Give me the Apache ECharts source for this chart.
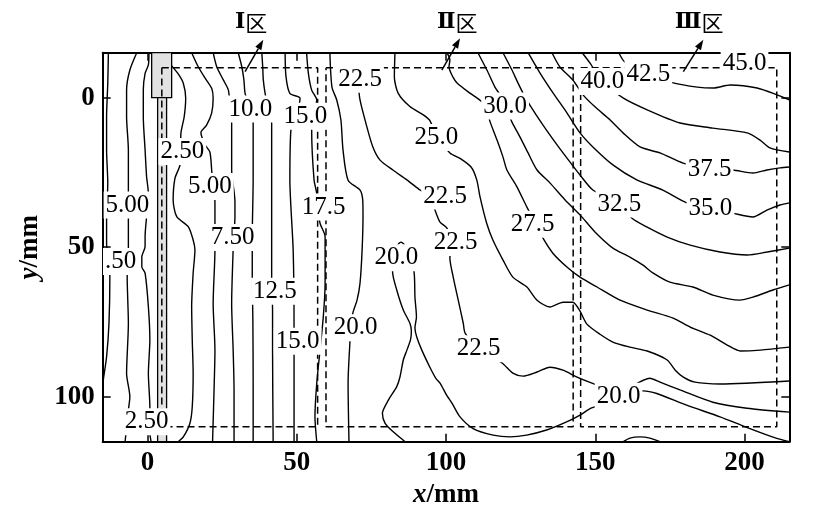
<!DOCTYPE html>
<html><head><meta charset="utf-8">
<script src="https://cdn.jsdelivr.net/npm/echarts@6/dist/echarts.min.js"></script>
<style>html,body{margin:0;padding:0;background:#fff}#c{width:831px;height:514px}</style>
</head><body><div id="c"></div>
<script>
// ---- axis ticks ----
const xTickValues = [0, 50, 100, 150, 200];
const yTickValues = [0, 50, 100];

// ---- contour lines (x mm, y mm) ----
const c25a = [[-13.1,-15],[-13.3,-4.8],[-13.7,6.4],[-13.7,17.5],[-13.3,28.6],[-13.7,39.8],[-13.7,48.7],[-12.6,59.9],[-12.9,75.5],[-13.7,86.6],[-14.8,94.4],[-15,96.6]];
const c50a = [[-3.6,-15],[-5.9,-9.2],[-7,-2.5],[-7,6.4],[-6.4,17.5],[-6.4,28.6],[-6.4,42],[-6.4,50.9],[-6.8,59.9],[-6.4,75.5],[-7,92.2],[-5.9,100],[-6.4,104.4],[-7.5,115]];
const c25b = [[0.5,-15],[0.3,-10.9],[-0.8,-8.1],[-1.4,-2.5],[-1.4,6.4],[-0.8,17.5],[-0.3,26.4],[0.3,32],[-0.3,39.8],[-0.8,46.5],[-0.8,49.8],[-1.9,53.2],[-1.9,56.5],[-0.8,58.7],[0.3,69.9],[0.8,81],[0.3,92.2],[0.8,103.3],[0.5,109.4],[1.2,115]];
const c25c = [[8.1,-10.6],[10.3,-7.9],[12,-4.8],[12.8,0.2],[12.3,6.4],[11.2,11.9],[11.1,17.5],[10.9,22.5],[9.2,27],[8.6,34.2],[9.8,39.8],[13.7,43.2],[15.3,47.6],[15.9,50.9],[15.3,58.7],[14.8,69.9],[15,81],[15.3,92.2],[15,103.3],[14.2,108.9],[12,113.4],[10.3,115]];
const c50b = [[14.8,-15],[17,-10.3],[19.3,-6.5],[21.5,-3.1],[22,0.2],[21.5,5.2],[19.8,9.2],[17.9,11.7],[19.3,15.8],[20.9,18.2],[21.5,24.2],[21.9,29.6],[22.6,34.8],[22.6,40.9],[22.6,50.9],[22,68.8],[22.6,84.4],[22.3,97.7],[21.8,115]];
const c75 = [[22,-15],[23.2,-10.3],[25.4,-5.9],[27.1,-2.5],[27.6,2.5],[28.2,8.6],[28.2,24.2],[29.3,34.8],[29.3,39.8],[29,45.9],[28.7,50.9],[28.2,68.8],[28.7,84.4],[29,97.7],[29,115]];
const c100 = [[30.4,-15],[31.6,-10.3],[32.3,-5.9],[32.7,-1.4],[34,2.5],[35,5.8],[35.4,8.6],[35.4,27.5],[35.1,46.5],[35.1,59.9],[35.3,74.3],[35.4,94.4],[35.4,115]];
const c125 = [[38.3,-15],[38.6,-10.3],[38.8,-5.9],[39.4,-1.4],[40.4,3.5],[41.6,8.6],[41.6,27.5],[41.6,61],[41.9,71],[41.9,84.4],[42.1,115]];
const c150 = [[46.1,-15],[46.4,-7],[47.7,-1.4],[51.1,0.2],[50.1,5.1],[48.1,10.2],[47.7,27.5],[48.8,50.9],[49.1,76.6],[49.1,95.5],[49.1,115]];
const c175 = [[53.3,-15],[53.9,-8.1],[55,-2.5],[56.7,0.8],[55.4,5.8],[55,10.8],[55.8,27.5],[56.7,32],[57.1,36.9],[57.8,42],[59.5,46.5],[59.5,62.1],[58.9,73.2],[57.8,84.4],[56.7,95.5],[56.1,106.7],[56.7,115]];
const c200a = [[61.1,-15],[61.8,-3.5],[63.4,0.8],[64.8,7.5],[65.5,17.5],[67.2,27.6],[71.2,30.9],[72.1,34.2],[72.2,39.2],[71.9,50.9],[71.2,62],[70.2,67.7],[68.8,72],[68.2,76.7],[67.8,82],[67.2,95.4],[67.5,115]];
const c200b = [[86.3,115],[82.3,111.7],[79.6,108.9],[78.7,105.5],[80.7,101.1],[83.5,96.6],[84.6,93.3],[85.7,87.7],[86.9,84.4],[88.1,81],[88.4,78],[87.9,75.4],[85.7,71],[83.5,64.3],[82.1,58.3],[82.9,50.9],[84.9,48.3],[87.3,50.9],[89.3,58.3],[89.6,66.7],[90.1,73.3],[89.6,77],[90.2,80],[91.9,84.4],[94.6,90.1],[96.6,93.8],[98,95.4],[100.2,99.4],[102,102.1],[104.7,106.7],[109.1,110.6],[115.8,112.8],[121.4,113.4],[127,112.8],[133.7,111.1],[140.4,108.4],[144.9,106.1],[148.8,103.7],[157.6,101.1],[166.1,98],[170.6,98.9],[180.6,102.8],[191.8,106.7],[200.7,110.2],[210.8,113.9],[215,115]];
const c225 = [[70.5,-5.9],[71.2,0.8],[73.5,9.8],[75.5,16.5],[77.9,20.9],[82.2,24.2],[86.9,27.5],[91.3,30.9],[94.6,33.2],[96.3,37.6],[98,41.6],[100.3,43.6],[102,48.6],[101.3,53.6],[102.4,59.9],[104.1,67.7],[105.8,75.5],[106.4,78.7],[110.7,83.7],[118.8,88.7],[122.4,92.1],[125.8,93.1],[130.5,91.7],[134.8,90.1],[139.2,91.1],[143.9,93.4],[148.9,95.4],[157.6,98.4],[168.3,93.8],[171.7,95.1],[178.4,97.7],[189.4,101.8],[200.8,103.8],[215,105.1]];
const c250 = [[82.9,-15],[82.7,-7],[84,-1.4],[87.9,3],[92.4,5.8],[94.6,7.7],[97,13.2],[101.4,18.6],[104.7,20.3],[108.4,23.2],[110.3,27.5],[111.4,33.2],[113.6,41.9],[115.7,47.6],[119.1,54.3],[122.4,60],[127.1,63.3],[130.5,67.7],[134.8,70],[139.2,68.4],[142.5,68.4],[144.9,71.4],[147.2,75.7],[151.6,79.1],[155.9,81.7],[161.6,83.4],[167.4,84.7],[174.1,87.7],[176.8,91.1],[179.5,93.4],[183.4,95.1],[191.8,95.7],[215,94.7]];
const c275 = [[100.3,-15],[101.3,-12.6],[101,-10.2],[102.3,-6.9],[103.7,-4.9],[108,-1.5],[112.1,1.5],[113.8,4.8],[114.8,8.2],[117.1,14.2],[119.1,19.9],[120.4,24.2],[123.8,29.9],[127.1,36.6],[129.8,41.6],[132.5,47],[135.8,52],[140.5,56.6],[144.9,60],[150.6,63.3],[158.3,67.7],[167.4,71],[176.1,73.7],[181.8,76.7],[188.5,79.4],[194.2,82.7],[198.6,84.7],[205.3,84.4],[215,83.4]];
const c300 = [[110.7,-15],[113.7,-9.2],[116.4,-3.5],[118.1,-0.9],[120.1,3.5],[122.1,8.2],[124.8,13.2],[127.5,18.5],[130.5,24.2],[134.8,28.5],[139.9,34.2],[144.9,39.2],[149.9,44.9],[155.9,50.3],[161.6,53.3],[166,56],[169.3,58.6],[175,61.7],[182.7,63.3],[189.4,66],[198.4,67.7],[202.8,66.7],[209.5,64.3],[215,62.6]];
const c325 = [[119.1,-15],[122.1,-9.2],[124.1,-4.9],[125.8,-1.5],[128.1,2.5],[132.5,9.2],[137.2,15.8],[141.5,21.5],[144.9,25.9],[149.2,30.9],[157.9,35.6],[162.3,40.3],[167.4,43.3],[174.1,46.6],[181.8,49.3],[191.8,51.6],[200.9,52.6],[207.6,51.6],[215,50.3]];
const c350 = [[127.5,-15],[131.5,-8.2],[135.9,-1.5],[140.5,5.1],[144.9,11.8],[149.2,16.5],[155.9,22.5],[163.9,27.5],[172.6,30.9],[180.7,35.2],[188.4,36.9],[196.1,38.6],[202.8,39.9],[207.5,37.6],[211.9,35.9],[215,35.2]];
const c375 = [[135.5,-15],[138.2,-10.2],[142.5,-5.9],[145.9,-0.9],[149.9,3.1],[155,7.5],[159.3,11.8],[165,16.5],[171.7,18.5],[179.4,21.9],[188.4,23.9],[196.1,24.2],[202.8,25.2],[207.5,24.2],[211.9,23.5],[215,23.2]];
const c400 = [[145.6,-15],[148.2,-11.6],[152.3,-5.5],[159.3,0.1],[167.4,4.1],[178.4,8.5],[189.4,10.2],[200.9,11.8],[205.2,14.2],[208.5,16.8],[215,18.2]];
const c425 = [[157.9,-15],[159.9,-11.9],[167.7,-7.9],[176.1,-4.9],[184.2,-3.5],[189.5,-3.2],[195.2,-4.2],[204.2,-3.2],[210.9,-0.9],[215,0.8]];
const c175b = [[159.4,115],[161.6,113.8],[165,113.4],[168.3,113.8],[171.7,115]];

const contourLines = [c25a,c50a,c25b,c25c,c50b,c75,c100,c125,c150,c175,c200a,c200b,c225,c250,c275,c300,c325,c350,c375,c400,c425,c175b];

// ---- contour labels [x, y, text] ----
const contourLabels = [
  [34.5,3.8,'10.0'],[52.9,6.2,'15.0'],[71.2,-6.1,'22.5'],[119.8,2.8,'30.0'],
  [152.4,-5.4,'40.0'],[167.8,-7.9,'42.5'],[200.0,-11.4,'45.0'],
  [11.7,18.0,'2.50'],[-6.7,35.9,'5.00'],[20.9,29.7,'5.00'],[96.8,13.3,'25.0'],
  [59.0,36.6,'17.5'],[188.3,23.9,'37.5'],[99.7,32.9,'22.5'],[158.1,35.6,'32.5'],
  [188.6,36.9,'35.0'],[28.5,46.8,'7.50'],[-9.0,54.8,'.50'],[103.2,48.4,'22.5'],
  [129.0,42.3,'27.5'],[83.4,53.5,'20.0'],[42.7,64.7,'12.5'],[69.7,76.9,'20.0'],
  [50.3,81.4,'15.0'],[110.9,83.9,'22.5'],[157.8,99.8,'20.0'],[-0.3,108.3,'2.50']
];

// ---- zones (dashed boxes) ----
const zoneI = [[4.8,-10],[57,-10],[57,110],[4.8,110],[4.8,-10]];
const zoneII = [[59.8,-10],[142.6,-10],[142.6,110],[59.8,110],[59.8,-10]];
const zoneIII = [[145.1,-10],[210.8,-10],[210.8,110],[145.1,110],[145.1,-10]];
const zoneNames = ['Ⅰ', 'Ⅱ', 'Ⅲ'];
const zoneNamePos = [[34.7,-25],[103.8,-25],[184.8,-25]];
const zoneArrows = [[32.7,-8.7,38.8,-19.3],[98.6,-9.2,104.7,-19.8],[179.5,-8.7,186.2,-19.3]];

// ---- strip (x1, y1, x2, y2) ----
const stripRects = [[1.4,-15,8.1,0],[3.4,0,6.4,115]];

const SERIF = "'Liberation Serif','Times New Roman',serif";
const chart = echarts.init(document.getElementById('c'), null, {renderer:'canvas'});

const axisCommon = {
  type:'value', splitLine:{show:false},
  axisLine:{show:true, onZero:false, lineStyle:{color:'#000', width:2}},
};

const series = [];
series.push({
  type:'custom', z:1, clip:false, data: stripRects, silent:true,
  renderItem:(params, api)=>{
    const p1 = api.coord([api.value(0), api.value(1)]);
    const p2 = api.coord([api.value(2), api.value(3)]);
    return {type:'rect', shape:{x:Math.min(p1[0],p2[0]), y:Math.min(p1[1],p2[1]), width:Math.abs(p2[0]-p1[0]), height:Math.abs(p2[1]-p1[1])},
      style:{fill:'#e2e2e2', stroke:'#000', lineWidth:1.3}};
  }
});
contourLines.forEach(d=>{
  series.push({type:'line', data:d, z:2, showSymbol:false, symbol:'none', smooth:0.25,
    lineStyle:{color:'#000', width:1.4}, silent:true});
});
[zoneI, zoneII, zoneIII].forEach(d=>{
  series.push({type:'line', data:d, z:3, showSymbol:false, symbol:'none',
    lineStyle:{color:'#000', width:1.5, type:[7,4]}, silent:true});
});
series.push({
  type:'custom', z:5, clip:false, data: contourLabels, silent:true,
  renderItem:(params, api)=>{
    const p = api.coord([api.value(0), api.value(1)]);
    return {type:'text', x:p[0], y:p[1], style:{
      text: contourLabels[params.dataIndex][2], fontFamily:SERIF, fontSize:25, fill:'#000',
      align:'center', verticalAlign:'middle', backgroundColor:'#fff', padding:[2,2,0,2]}};
  }
});
series.push({
  type:'custom', z:6, clip:false, data: zoneArrows, silent:true,
  renderItem:(params, api)=>{
    const a = api.coord([api.value(0), api.value(1)]);
    const b = api.coord([api.value(2), api.value(3)]);
    const dx=b[0]-a[0], dy=b[1]-a[1], len=Math.hypot(dx,dy), ux=dx/len, uy=dy/len;
    const hl=10, hw=3.5, bx=b[0]-ux*hl, by=b[1]-uy*hl;
    return {type:'group', children:[
      {type:'line', shape:{x1:a[0],y1:a[1],x2:bx,y2:by}, style:{stroke:'#000', lineWidth:1.5}},
      {type:'polygon', shape:{points:[[b[0],b[1]],[bx-uy*hw,by+ux*hw],[bx+uy*hw,by-ux*hw]]}, style:{fill:'#000'}}
    ]};
  }
});
series.push({
  type:'custom', z:6, clip:false, data: zoneNamePos, silent:true,
  renderItem:(params, api)=>{
    const p = api.coord([api.value(0), api.value(1)]);
    return {type:'text', x:p[0], y:p[1], style:{
      text:'{r|'+zoneNames[params.dataIndex]+'}{c|区}', align:'center', verticalAlign:'middle', fill:'#000',
      rich:{r:{fontFamily:"'DejaVu Serif','Liberation Serif',serif", fontWeight:'bold', fontSize:22, fill:'#000'},
            c:{fontFamily:"'Noto Sans CJK SC'", fontSize:22, fill:'#000'}}}};
  }
});

const tickLabelStyle = {fontFamily:SERIF, fontSize:27, fontWeight:'bold', color:'#000'};
const nameStyle = {fontFamily:SERIF, fontSize:27, fontWeight:'bold', color:'#000',
  rich:{i:{fontFamily:SERIF, fontSize:27, fontStyle:'italic', fontWeight:'bold', color:'#000'},
        n:{fontFamily:SERIF, fontSize:27, fontWeight:'bold', color:'#000'}}};

chart.setOption({
  animation:false,
  backgroundColor:'#fff',
  grid:{left:102.7, right:41.7, top:52.7, bottom:72.3},
  xAxis:[
    Object.assign({}, axisCommon, {min:-15, max:215, position:'bottom',
      axisTick:{show:true, inside:true, length:8, customValues:xTickValues, lineStyle:{color:'#000', width:1.5}},
      axisLabel:Object.assign({show:true, customValues:xTickValues, margin:8}, tickLabelStyle),
      name:'{i|x}{n|/mm}', nameLocation:'middle', nameGap:38, nameTextStyle:nameStyle}),
    Object.assign({}, axisCommon, {min:-15, max:215, position:'top',
      axisTick:{show:true, inside:true, length:8, customValues:xTickValues, lineStyle:{color:'#000', width:1.5}},
      axisLabel:{show:false}})
  ],
  yAxis:[
    Object.assign({}, axisCommon, {min:-15, max:115, inverse:true, position:'left',
      axisTick:{show:true, inside:true, length:8, customValues:yTickValues, lineStyle:{color:'#000', width:1.5}},
      axisLabel:Object.assign({show:true, customValues:yTickValues, margin:8}, tickLabelStyle),
      name:'{i|y}{n|/mm}', nameLocation:'middle', nameGap:55, nameRotate:90, nameTextStyle:nameStyle}),
    Object.assign({}, axisCommon, {min:-15, max:115, inverse:true, position:'right',
      axisTick:{show:true, inside:true, length:8, customValues:yTickValues, lineStyle:{color:'#000', width:1.5}},
      axisLabel:{show:false}})
  ],
  series: series
});
</script>
</body></html>
